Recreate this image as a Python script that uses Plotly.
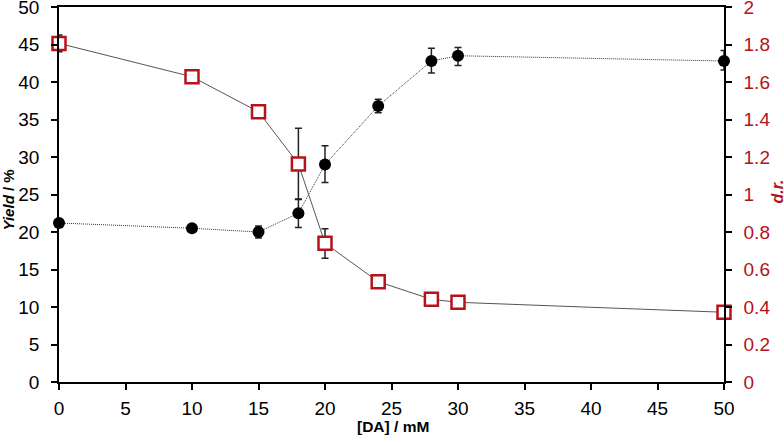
import plotly.graph_objects as go

da = [0, 10, 15, 18, 20, 24, 28, 30, 50]
yield_pct = [21.2, 20.5, 20.0, 22.5, 29.0, 36.8, 42.8, 43.5, 42.8]
yield_err_plus = [0, 0, 0.8, 1.9, 2.5, 0.9, 1.7, 1.1, 1.4]
yield_err_minus = [0, 0, 0.8, 1.9, 2.4, 0.9, 1.6, 1.3, 1.2]
dr = [1.806, 1.628, 1.441, 1.163, 0.74, 0.535, 0.441, 0.425, 0.372]
dr_err_plus = [0.045, 0, 0.03, 0.19, 0.078, 0, 0, 0, 0]
dr_err_minus = [0.045, 0, 0.03, 0.19, 0.08, 0, 0, 0, 0]

RED = "#B5121B"
FONT = "Liberation Sans, Arial, sans-serif"

fig = go.Figure()
fig.add_trace(go.Scatter(
    x=da, y=yield_pct, mode="lines+markers", yaxis="y",
    line=dict(color="#333333", width=1, dash="1px,1px"),
    marker=dict(symbol="circle", size=12, color="black"),
    error_y=dict(type="data", array=yield_err_plus, arrayminus=yield_err_minus,
                 symmetric=False, color="#222222", thickness=1.5, width=3.5),
    cliponaxis=False, showlegend=False))
fig.add_trace(go.Scatter(
    x=da, y=dr, mode="lines", yaxis="y2",
    line=dict(color="#555555", width=1),
    error_y=dict(type="data", array=dr_err_plus, arrayminus=dr_err_minus,
                 symmetric=False, color="#222222", thickness=1.5, width=3.5),
    cliponaxis=False, showlegend=False))
# white fill inside squares
fig.add_trace(go.Scatter(
    x=da, y=dr, mode="markers", yaxis="y2",
    marker=dict(symbol="square", size=12, color="white", line=dict(width=0)),
    cliponaxis=False, showlegend=False, hoverinfo="skip"))
fig.add_trace(go.Scatter(
    x=da, y=dr, mode="markers", yaxis="y2",
    marker=dict(symbol="square-open", size=13, color=RED, line=dict(width=2.5, color=RED)),
    cliponaxis=False, showlegend=False))

axis_common = dict(showgrid=False, zeroline=False, showline=True, linecolor="black",
                   linewidth=1.5, ticks="outside", ticklen=6, tickwidth=1.5,
                   tickcolor="black", automargin=False, ticklabeloverflow="allow")

fig.update_layout(
    width=784, height=443,
    margin=dict(l=59, r=60, t=7, b=61),
    paper_bgcolor="white", plot_bgcolor="white",
    font=dict(family=FONT, color="black"),
    xaxis=dict(range=[0, 50], dtick=5, mirror=True, ticklabelstandoff=2,
               tickfont=dict(size=19, family=FONT), **axis_common),
    yaxis=dict(range=[0, 50], dtick=5, ticklabelstandoff=8,
               tickfont=dict(size=19, family=FONT), **axis_common),
    yaxis2=dict(range=[0, 2], dtick=0.2, overlaying="y", side="right",
                ticklabelstandoff=8,
                tickfont=dict(size=19, family=FONT, color=RED),
                tickformat="~g", **axis_common),
    annotations=[
        dict(text="<b>[DA] / mM</b>", xref="paper", yref="paper", x=0.5, y=0,
             yshift=-44, xshift=1, xanchor="center", yanchor="middle", showarrow=False,
             font=dict(size=15.5, family=FONT, color="black")),
        dict(text="<b><i>Yield</i> / %</b>", xref="paper", yref="paper", x=0, y=0.5,
             xshift=-51, yshift=-6, xanchor="center", yanchor="middle", showarrow=False,
             textangle=-90, font=dict(size=15, family=FONT, color="black")),
        dict(text="<b><i>d.r.</i></b>", xref="paper", yref="paper", x=1, y=0.5,
             xshift=53, yshift=3, xanchor="center", yanchor="middle", showarrow=False,
             textangle=-90, font=dict(size=16, family=FONT, color=RED)),
    ],
)

fig.write_html("out.html", config={"displayModeBar": False},
               post_script="document.body.style.margin='0';document.body.style.padding='0';")
